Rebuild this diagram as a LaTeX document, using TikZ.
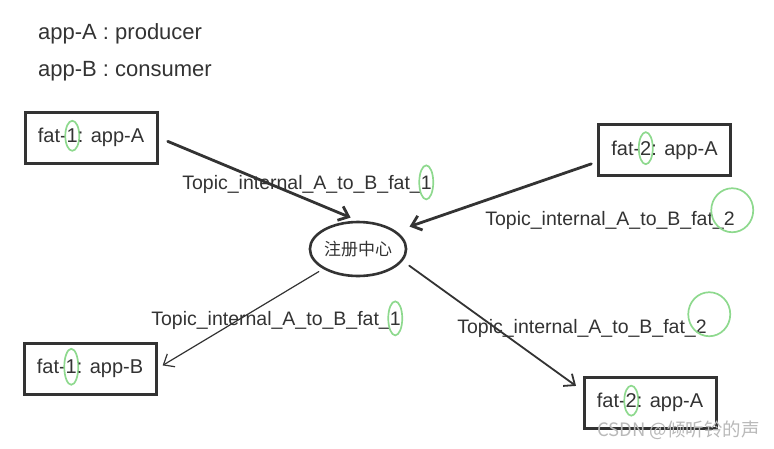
\documentclass[tikz,border=0pt]{standalone}
\usepackage{fontspec}
\setmainfont{Liberation Sans}
\newfontfamily\cjk{Noto Sans CJK SC}
\usetikzlibrary{arrows.meta,shapes.geometric}
\definecolor{ink}{HTML}{333333}
\definecolor{hlgreen}{HTML}{8ED98E}

\tikzset{
  hostbox/.style={draw=ink, line width=3pt, minimum width=132pt,
                  minimum height=51pt, inner sep=0pt,
                  font=\fontsize{20}{24}\selectfont, text=ink},
  regnode/.style={draw=ink, ellipse, line width=2.6pt, minimum width=86pt,
                  minimum height=54pt, inner sep=0pt,
                  font=\cjk\fontsize{17}{20}\selectfont, text=ink},
  topic/.style={font=\fontsize{19.5}{23}\selectfont, text=ink, inner sep=0pt},
  role/.style={anchor=west, font=\fontsize{22}{26}\selectfont, text=ink,
               inner sep=0pt},
  flow/.style={draw=ink, -{Straight Barb[length=9pt,width=15pt]}},
  digit/.style={inner sep=0pt, outer sep=0pt, minimum width=0pt,
                minimum height=0pt, shape=rectangle, draw=none},
  hlmark/.style={draw=hlgreen, line width=1.7pt, x radius=7pt, y radius=15pt},
  hlbig/.style={x radius=21pt, y radius=22pt, yshift=8pt, xshift=3pt},
}
\newcommand\hlnum[2][]{\tikz[baseline=(d.base)]{\node[digit] (d) {#2};
  \draw[hlmark,#1,overlay] ([#1]d.center) ellipse;}}

\begin{document}
\begin{tikzpicture}[x=1pt, y=-1pt, line cap=round]
\useasboundingbox (0,0) rectangle (774,448);
% roles
\node[role] (roleA) at (38,34) {app-A : producer};
\node[role] (roleB) at (38,71) {app-B : consumer};
% hosts and registry
\node[hostbox] (fa1) at (91,137.5) {fat-\hlnum{1}: app-A};
\node[hostbox] (fa2) at (664.5,150) {fat-\hlnum[y radius=16pt]{2}: app-A};
\node[hostbox] (fb1) at (90,368.5) {fat-\hlnum[y radius=18pt]{1}: app-B};
\node[hostbox] (fb2) at (650,402.5) {fat-\hlnum{2}: app-A};
\node[regnode] (reg) at (358,249) {注册中心};
% flows
\draw[flow, line width=2.8pt, shorten <=10pt, shorten >=8pt] (fa1.east) -- (reg.north);
\draw[flow, line width=2.8pt, shorten <=6pt, shorten >=14pt] (fa2.190) -- (reg.25);
\draw[flow, line width=1.2pt, shorten <=5pt, shorten >=6pt] (reg.south west) -- (fb1.east);
\draw[flow, line width=1.8pt, shorten <=8pt, shorten >=8pt] (reg.-15) -- (fb2.170);
% topics
\node[topic] (t1) at (307,184) {Topic\_internal\_A\_to\_B\_fat\_\hlnum[y radius=17pt]{1}};
\node[topic] (t2) at (610,220) {Topic\_internal\_A\_to\_B\_fat\_\hlnum[hlbig]{2}};
\node[topic] (t3) at (276,320) {Topic\_internal\_A\_to\_B\_fat\_\hlnum[y radius=17pt]{1}};
\node[topic] (t4) at (582,328) {Topic\_internal\_A\_to\_B\_fat\_\hlnum[hlbig, yshift=4pt, xshift=5pt]{2}};
% watermark
\node[anchor=east, font=\cjk\fontsize{18.5}{22}\selectfont, text=gray!55, inner sep=0pt]
  (mark) at (760,430) {CSDN @倾听铃的声};
\end{tikzpicture}
\end{document}
